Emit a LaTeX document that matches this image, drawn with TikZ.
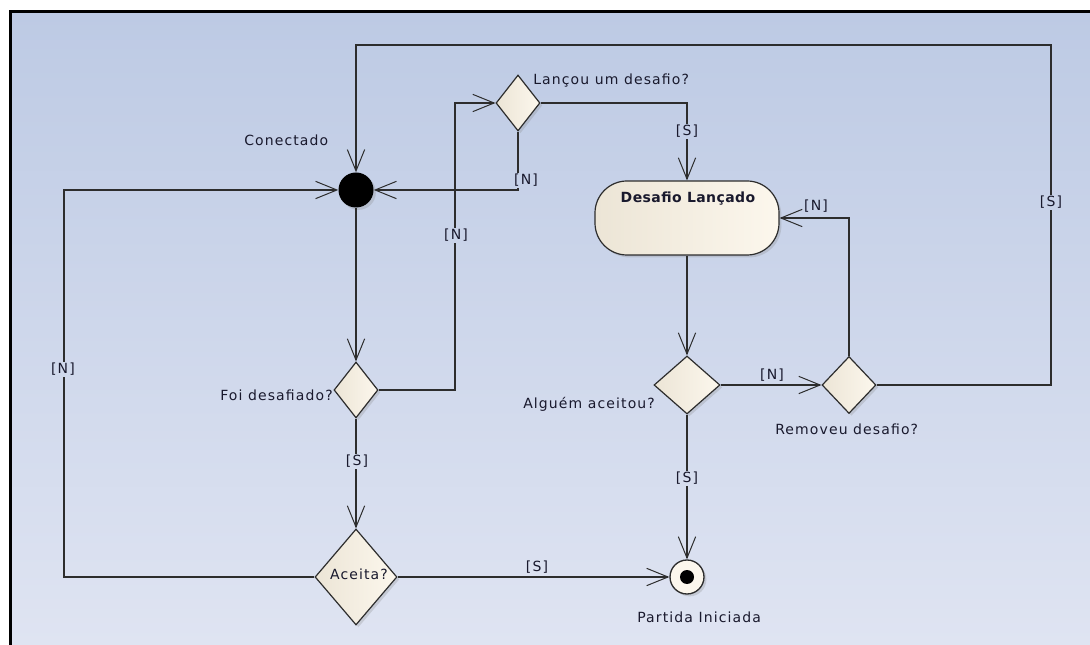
\documentclass[tikz,border=0pt]{standalone}
\usepackage{fontspec}
\setmainfont{DejaVu Sans}[LetterSpace=8]
\newfontfamily\titlefont{DejaVu Sans}[LetterSpace=3]
\usetikzlibrary{arrows.meta,shapes.geometric,shadows}

\definecolor{bgtop}{RGB}{189,202,228}
\definecolor{bgbot}{RGB}{223,228,242}
\definecolor{creamA}{RGB}{236,229,214}
\definecolor{creamB}{RGB}{252,247,237}
\definecolor{wire}{RGB}{45,45,45}
\definecolor{ink}{RGB}{25,25,45}

\begin{document}
\begin{tikzpicture}[x=0.75pt,y=-0.75pt,
  font=\fontsize{10.5}{12}\selectfont,
  every node/.style={text=ink},
  flow/.style={draw=wire, line width=1pt,
    -{Straight Barb[length=16pt,width=13pt,line width=0.75pt]}},
  nodeshadow/.style={drop shadow={opacity=0.25, shadow xshift=1.8pt, shadow yshift=-1.8pt}},
  dec/.style={shape=diamond, draw=wire, line width=0.9pt, inner sep=0pt,
    left color=creamA, right color=creamB, nodeshadow},
  act/.style={shape=rectangle, rounded corners=24pt, draw=wire, line width=0.9pt,
    left color=creamA, right color=creamB, minimum width=138pt, minimum height=55.5pt,
    nodeshadow},
  initnode/.style={shape=circle, fill=black, minimum size=26.25pt, inner sep=0pt, nodeshadow},
  finalnode/.style={shape=circle, draw=wire, line width=1pt, fill=creamB,
    minimum size=25.5pt, inner sep=0pt, nodeshadow},
  caption/.style={anchor=base west, inner sep=0pt},
  lbl/.style={anchor=base, inner sep=1pt, fill=bgbot!#1!bgtop},
  lblfree/.style={anchor=base, inner sep=1pt},
]
\useasboundingbox (0,0) rectangle (1090,645);
\clip (0,0) rectangle (1090,645);

% canvas: white margin, gradient sheet and its frame
\fill[white] (0,0) rectangle (1090,645);
\shade[top color=bgtop, bottom color=bgbot] (10,12) rectangle (1090,645);
\draw[line width=2.25pt, black] (10,660) -- (10,12) -- (1100,12);

% activity nodes
\node[initnode] (init) at (356,190) {};
\node[dec, minimum width=33pt, minimum height=42pt] (lancou) at (518,103) {};
\node[dec, minimum width=33pt, minimum height=42pt] (foi) at (356,390) {};
\node[dec, minimum width=61.5pt, minimum height=72pt] (aceita) at (356,577) {};
\node[act] (desafio) at (687,218) {};
\node[dec, minimum width=49.5pt, minimum height=43.5pt] (alguem) at (687,385) {};
\node[dec, minimum width=40.5pt, minimum height=42.75pt] (removeu) at (849,385) {};
\node[finalnode] (final) at (687,577) {};
\fill[black] (final.center) circle[radius=5.25pt];

% captions
\node[caption] (tConectado) at (244,146) {Conectado};
\node[caption] (tLancou) at (533,85) {Lançou um desafio?};
\node[caption] (tFoi) at (220,401) {Foi desafiado?};
\node[caption] (tAlguem) at (523,409) {Alguém aceitou?};
\node[caption] (tRemoveu) at (775,435) {Removeu desafio?};
\node[caption] (tPartida) at (637,622) {Partida Iniciada};
\node[anchor=base, inner sep=0pt] (tAceita) at (359,579) {Aceita?};
\node[anchor=base, inner sep=0pt, font=\titlefont\bfseries\fontsize{10.5}{12}\selectfont]
  (tDesafio) at (688,203) {Desafio Lançado};

% bend points of the routed connectors
\coordinate (rtop) at (1051,45);
\coordinate (jmid) at (455,103);
\coordinate (jleft) at (64,190);

% connectors
\draw[flow] (removeu.east) -| (rtop) -| (init.north);
\draw[flow] (foi.east) -| (jmid) -- (lancou.west);
\draw[flow] (lancou.south) |- (init.east);
\draw[flow] (lancou.east) -| (desafio.north);
\draw[flow] (desafio.south) -- (alguem.north);
\draw[flow] (alguem.east) -- (removeu.west);
\draw[flow] (removeu.north) |- (desafio.east);
\draw[flow] (alguem.south) -- (final.north);
\draw[flow] (init.south) -- (foi.north);
\draw[flow] (foi.south) -- (aceita.north);
\draw[flow] (aceita.east) -- (final.west);
\draw[flow] (aceita.west) -| (jleft) -- (init.west);

% guard labels
\node[lbl=31] (gRight) at (1051,207) {[S]};
\node[lbl=20] (gLancouS) at (687,136) {[S]};
\node[lbl=27] (gLancouN) at (526,185) {[N]};
\node[lbl=36] (gFoiN) at (456,240) {[N]};
\node[lbl=72] (gFoiS) at (357,466) {[S]};
\node[lblfree] (gAceitaS) at (537,571) {[S]};
\node[lbl=74] (gAlguemS) at (687,483) {[S]};
\node[lblfree] (gAlguemN) at (772,380) {[N]};
\node[lblfree] (gRemoveuN) at (816,211) {[N]};
\node[lbl=57] (gLeft) at (63,374) {[N]};
\end{tikzpicture}
\end{document}
